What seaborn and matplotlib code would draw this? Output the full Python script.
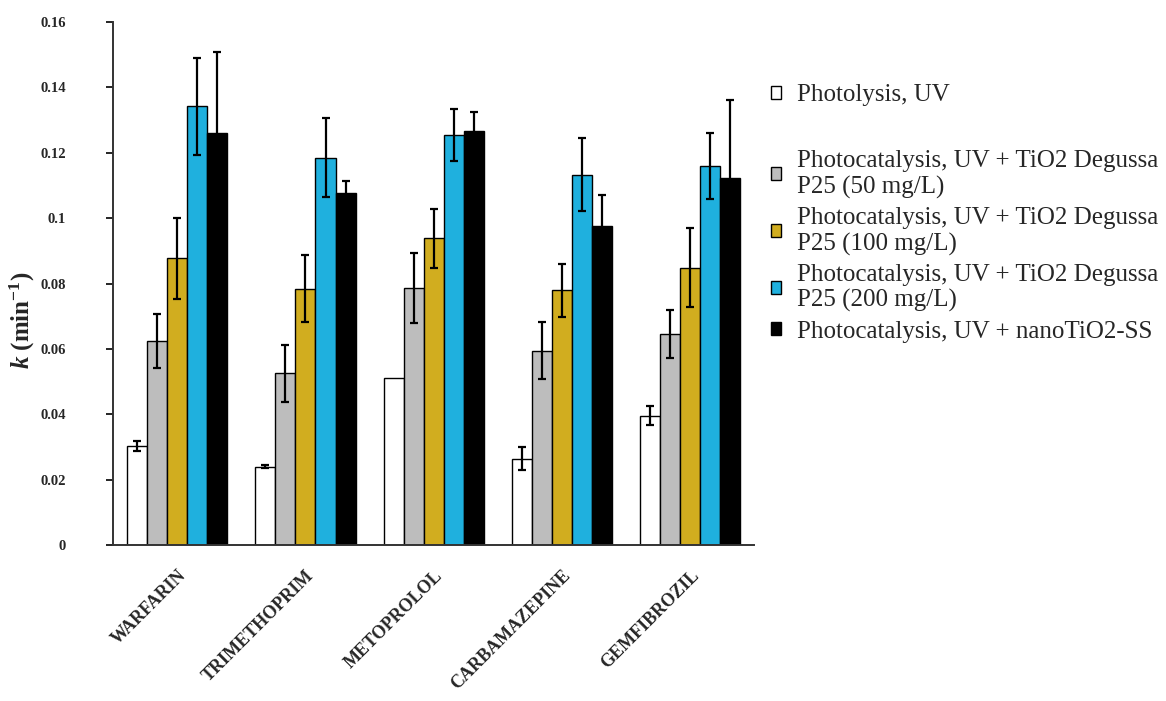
import pandas as pd
import matplotlib.pyplot as plt
import seaborn as sns
from matplotlib.patches import Patch

# Data
compounds = ['WARFARIN', 'TRIMETHOPRIM', 'METOPROLOL', 'CARBAMAZEPINE', 'GEMFIBROZIL']
treatments = [
    'Photolysis, UV',
    'Photocatalysis, UV + TiO2 Degussa\nP25 (50 mg/L)',
    'Photocatalysis, UV + TiO2 Degussa\nP25 (100 mg/L)',
    'Photocatalysis, UV + TiO2 Degussa\nP25 (200 mg/L)',
    'Photocatalysis, UV + nanoTiO2-SS',
]
k_photolysis = [0.0303, 0.0240, 0.0510, 0.0264, 0.0396]
k_p25_50 = [0.0625, 0.0525, 0.0787, 0.0595, 0.0646]
k_p25_100 = [0.0877, 0.0784, 0.0939, 0.0779, 0.0849]
k_p25_200 = [0.1342, 0.1185, 0.1255, 0.1133, 0.1159]
k_nano = [0.1260, 0.1076, 0.1267, 0.0975, 0.1122]

err_photolysis = [0.0016, 0.0005, 0.0, 0.0035, 0.0028]
err_p25_50 = [0.0083, 0.0088, 0.0107, 0.0086, 0.0074]
err_p25_100 = [0.0123, 0.0103, 0.0090, 0.0081, 0.0122]
err_p25_200 = [0.0149, 0.0121, 0.0079, 0.0111, 0.0101]
err_nano = [0.0247, 0.0037, 0.0057, 0.0095, 0.0239]

y_ticks = [0, 0.02, 0.04, 0.06, 0.08, 0.1, 0.12, 0.14, 0.16]
y_ticklabels = ['0', '0.02', '0.04', '0.06', '0.08', '0.1', '0.12', '0.14', '0.16']

colors = ['#ffffff', '#bdbdbd', '#d1ad1f', '#1fb0de', '#000000']

values = [k_photolysis, k_p25_50, k_p25_100, k_p25_200, k_nano]
errors = [err_photolysis, err_p25_50, err_p25_100, err_p25_200, err_nano]

rows = []
for t, vals, errs in zip(treatments, values, errors):
    for c, v, e in zip(compounds, vals, errs):
        rows.append({'Compound': c, 'Treatment': t, 'k': v, 'err': e})
df = pd.DataFrame(rows)

sns.set_style('white')
plt.rcParams['font.family'] = ['Liberation Serif', 'DejaVu Serif']
plt.rcParams['mathtext.fontset'] = 'custom'
plt.rcParams['mathtext.rm'] = 'Liberation Serif:bold'
plt.rcParams['mathtext.it'] = 'Liberation Serif:italic:bold'
plt.rcParams['mathtext.bf'] = 'Liberation Serif:bold'

fig = plt.figure(figsize=(11.66, 7.01), dpi=100)
ax = fig.add_axes([0.097, 0.2225, 0.55, 0.746])

sns.barplot(
    data=df, x='Compound', y='k', hue='Treatment',
    order=compounds, hue_order=treatments, palette=colors,
    saturation=1, width=0.78, gap=0, errorbar=None,
    edgecolor='black', linewidth=1.0, legend=False, ax=ax
)

# error bars on top of each bar
for cont, errs in zip(ax.containers, errors):
    for bar, e in zip(cont, errs):
        if e <= 0:
            continue
        xc = bar.get_x() + bar.get_width() / 2
        ax.errorbar(xc, bar.get_height(), yerr=e, fmt='none',
                    ecolor='black', elinewidth=1.6, capsize=3, capthick=1.6)

ax.set_ylim(0, 0.16)
ax.set_xlim(-0.5, len(compounds) - 0.5)
ax.set_yticks(y_ticks)
ax.set_yticklabels(y_ticklabels, fontsize=10.5, fontweight='bold')
ax.set_xticks(range(len(compounds)))
ax.set_xticklabels(compounds, rotation=45, ha='right', rotation_mode='anchor',
                   fontsize=13, fontweight='bold')
ax.set_xticks([i - 0.5 for i in range(len(compounds) + 1)], minor=True)
ax.tick_params(axis='x', which='major', length=0, pad=16)
ax.tick_params(axis='x', which='minor', length=5, width=1.2, direction='out', color='black')
ax.tick_params(axis='y', length=5, width=1.2, direction='out', color='black', pad=29, left=True)

for side in ['top', 'right']:
    ax.spines[side].set_visible(False)
for side in ['left', 'bottom']:
    ax.spines[side].set_color('#333333')
    ax.spines[side].set_linewidth(1.4)

ax.set_xlabel('')
ax.set_ylabel(r'$k$ (min$^{-1}$)', fontsize=18, fontweight='bold')
ax.yaxis.set_label_coords(-0.118, 0.43)

handles = [Patch(facecolor=c, edgecolor='black', linewidth=1) for c in colors]
leg_kw = dict(loc='upper left', frameon=False, fontsize=18, handlelength=0.42,
              handleheight=0.42, handletextpad=0.65, borderpad=0, borderaxespad=0)
fig.legend(handles[:1], treatments[:1], bbox_to_anchor=(0.661, 0.88),
           labelspacing=0.2, **leg_kw)
fig.legend(handles[1:], treatments[1:], bbox_to_anchor=(0.661, 0.786),
           labelspacing=0.33, **leg_kw)

fig.savefig('out.png', dpi=100)
plt.close(fig)
